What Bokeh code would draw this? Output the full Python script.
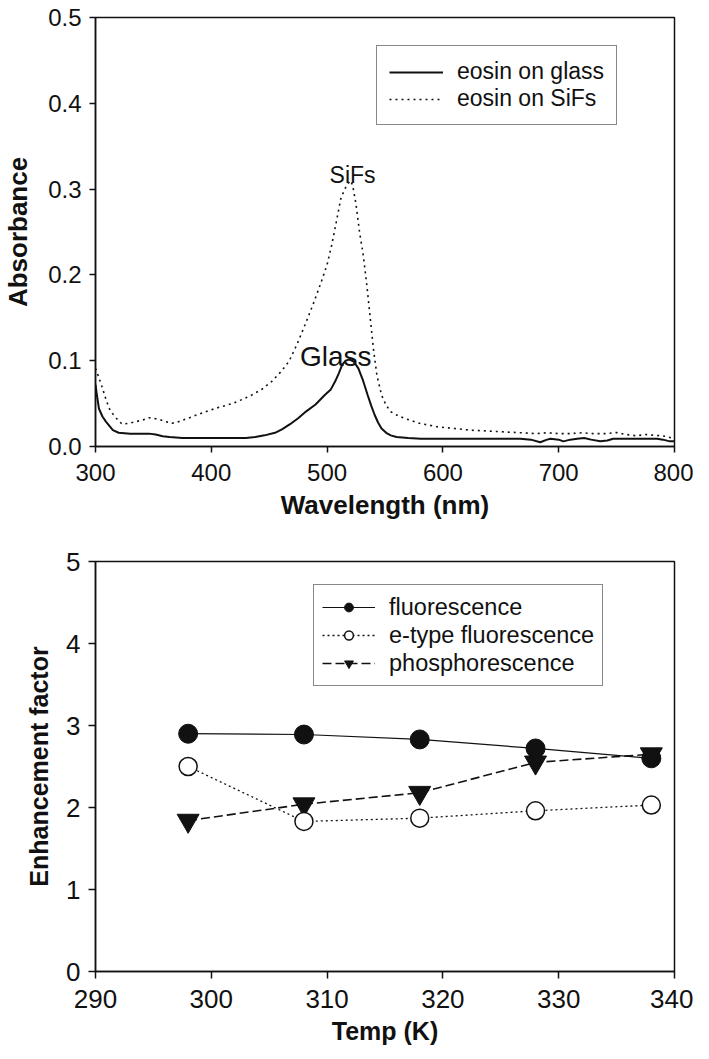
from bokeh.plotting import figure
from bokeh.layouts import column
from bokeh.models import FixedTicker, PrintfTickFormatter, Legend, LegendItem, Range1d
from bokeh.core.properties import value
from bokeh.embed import file_html
from bokeh.resources import INLINE

# ---------------- data: top panel ----------------
glass_nm = [300, 301, 303, 306, 309, 312, 315, 320, 330, 340, 346, 352, 358, 364, 375, 390,
            410, 430, 438, 446, 455, 461, 468, 475, 482, 490, 498, 503, 507, 510, 513, 516,
            518, 520, 523, 527, 531, 535, 538, 541, 544, 547, 551, 555, 560, 570, 581, 600,
            624, 650, 667, 676, 684, 690, 693, 700, 704, 710, 716, 722, 728, 736, 742, 747,
            760, 775, 785, 790, 796, 800]
glass_abs = [0.072, 0.062, 0.044, 0.035, 0.029, 0.024, 0.019, 0.016, 0.015, 0.015, 0.015, 0.014,
             0.012, 0.011, 0.010, 0.010, 0.010, 0.010, 0.011, 0.013, 0.016, 0.020, 0.026, 0.033,
             0.041, 0.049, 0.060, 0.066, 0.076, 0.085, 0.095, 0.100, 0.101, 0.101, 0.099, 0.091,
             0.077, 0.060, 0.048, 0.037, 0.028, 0.021, 0.016, 0.013, 0.011, 0.010, 0.009, 0.009,
             0.009, 0.009, 0.009, 0.008, 0.005, 0.008, 0.009, 0.008, 0.006, 0.008, 0.009, 0.010,
             0.008, 0.006, 0.007, 0.009, 0.009, 0.009, 0.009, 0.008, 0.006, 0.006]

sifs_nm = [300, 303, 306, 309, 312, 315, 318, 323, 329, 335, 341, 346, 350, 355, 361, 366, 372,
           378, 386, 395, 405, 418, 427, 435, 444, 452, 460, 467, 474, 481, 488, 495, 500, 504,
           508, 512, 516, 520, 522, 525, 528, 531, 534, 537, 540, 543, 547, 551, 555, 561, 567,
           580, 595, 610, 624, 640, 653, 668, 681, 690, 700, 710, 720, 730, 740, 750, 758, 767,
           775, 784, 792, 800]
sifs_abs = [0.091, 0.080, 0.068, 0.055, 0.044, 0.038, 0.033, 0.026, 0.027, 0.029, 0.031, 0.0335,
            0.033, 0.0315, 0.029, 0.027, 0.029, 0.032, 0.036, 0.0405, 0.045, 0.050, 0.055, 0.060,
            0.067, 0.0755, 0.087, 0.099, 0.119, 0.142, 0.166, 0.192, 0.212, 0.235, 0.262, 0.290,
            0.302, 0.310, 0.305, 0.282, 0.250, 0.225, 0.192, 0.153, 0.114, 0.083, 0.060, 0.048,
            0.0405, 0.036, 0.0327, 0.027, 0.023, 0.021, 0.019, 0.018, 0.017, 0.016, 0.015, 0.016,
            0.015, 0.015, 0.016, 0.015, 0.015, 0.0163, 0.014, 0.0125, 0.014, 0.013, 0.012, 0.009]

top_xticks = [300, 400, 500, 600, 700, 800]
top_yticks = [0.0, 0.1, 0.2, 0.3, 0.4, 0.5]

# ---------------- data: bottom panel ----------------
temp_k = [298, 308, 318, 328, 338]
fluorescence = [2.90, 2.89, 2.83, 2.72, 2.60]
etype_fluorescence = [2.50, 1.83, 1.87, 1.96, 2.03]
phosphorescence = [1.84, 2.04, 2.18, 2.55, 2.65]

bot_xticks = [290, 300, 310, 320, 330, 340]
bot_yticks = [0, 1, 2, 3, 4, 5]

FONT = "Liberation Sans"


def style(p, tick_size, label_size, tick_out, y_std, x_std, xtick_std):
    p.outline_line_color = "#111111"
    p.outline_line_width = 1.5
    p.xgrid.visible = False
    p.ygrid.visible = False
    for ax in (p.xaxis[0], p.yaxis[0]):
        ax.axis_line_color = "#111111"
        ax.axis_line_width = 1.5
        ax.major_tick_line_color = "#111111"
        ax.major_tick_line_width = 1.5
        ax.major_tick_out = tick_out
        ax.major_tick_in = 0
        ax.minor_tick_line_color = None
        ax.major_label_text_font = FONT
        ax.major_label_text_font_size = tick_size
        ax.major_label_text_color = "#111111"
        ax.major_label_standoff = 8
        ax.axis_label_text_font = FONT
        ax.axis_label_text_font_style = "bold"
        ax.axis_label_text_font_size = label_size
        ax.axis_label_text_color = "#111111"
    p.xaxis[0].major_label_standoff = xtick_std
    p.yaxis[0].axis_label_standoff = y_std
    p.xaxis[0].axis_label_standoff = x_std


# ---------------- top figure ----------------
p1 = figure(width=693, height=531, output_backend="svg", toolbar_location=None,
            x_range=Range1d(300, 800), y_range=Range1d(0, 0.5),
            min_border_left=90, min_border_right=19, min_border_top=17, min_border_bottom=85)
p1.background_fill_color = "white"
p1.border_fill_color = "white"

r_glass = p1.line(glass_nm, glass_abs, line_color="#111111", line_width=2)
r_sifs = p1.line(sifs_nm, sifs_abs, line_color="#111111", line_width=1.6, line_dash="2 4")

p1.text(x=[522], y=[0.317], text=["SiFs"], text_font=value(FONT), text_font_size="23px",
        text_align="center", text_baseline="alphabetic", text_color="#111111")
p1.text(x=[507.5], y=[0.1048], text=["Glass"], text_font=value(FONT), text_font_size="28px",
        text_align="center", text_baseline="alphabetic", text_color="#111111")

p1.xaxis.axis_label = "Wavelength (nm)"
p1.yaxis.axis_label = "Absorbance"
p1.xaxis.ticker = FixedTicker(ticks=top_xticks)
p1.yaxis.ticker = FixedTicker(ticks=top_yticks)
p1.yaxis.formatter = PrintfTickFormatter(format="%.1f")
p1.xaxis.formatter = PrintfTickFormatter(format="%d")
style(p1, "24px", "26px", 6, 12, 6, 11)

leg1 = Legend(items=[LegendItem(label="eosin on glass", renderers=[r_glass]),
                     LegendItem(label="eosin on SiFs", renderers=[r_sifs])],
              location=(281, 321))
leg1.label_text_font = FONT
leg1.label_text_font_size = "23px"
leg1.label_text_color = "#111111"
leg1.glyph_width = 54
leg1.glyph_height = 20
leg1.label_height = 26
leg1.label_standoff = 14
leg1.spacing = 0
leg1.padding = 12
leg1.margin = 0
leg1.border_line_color = "#111111"
leg1.border_line_width = 1.5
leg1.background_fill_color = "white"
leg1.background_fill_alpha = 1.0
p1.add_layout(leg1, "center")

# ---------------- bottom figure ----------------
p2 = figure(width=693, height=519, output_backend="svg", toolbar_location=None,
            x_range=Range1d(290, 340), y_range=Range1d(0, 5),
            min_border_left=87, min_border_right=17, min_border_top=30, min_border_bottom=79)
p2.background_fill_color = "white"
p2.border_fill_color = "white"

l_f = p2.line(temp_k, fluorescence, line_color="#111111", line_width=1.2)
l_e = p2.line(temp_k, etype_fluorescence, line_color="#111111", line_width=1.3, line_dash="2 3")
l_p = p2.line(temp_k, phosphorescence, line_color="#111111", line_width=1.6, line_dash="9 4")
s_f = p2.scatter(temp_k, fluorescence, marker="circle", size=19, fill_color="#111111",
                 line_color="#111111")
s_p = p2.scatter(temp_k, phosphorescence, marker="inverted_triangle", size=22,
                 fill_color="#111111", line_color="#111111")
s_e = p2.scatter(temp_k, etype_fluorescence, marker="circle", size=18, fill_color="white",
                 line_color="#111111", line_width=1.5)

p2.xaxis.axis_label = "Temp (K)"
p2.yaxis.axis_label = "Enhancement factor"
p2.xaxis.ticker = FixedTicker(ticks=bot_xticks)
p2.yaxis.ticker = FixedTicker(ticks=bot_yticks)
p2.xaxis.formatter = PrintfTickFormatter(format="%d")
p2.yaxis.formatter = PrintfTickFormatter(format="%d")
style(p2, "26px", "25px", 7, 10, 6, 11)

leg2 = Legend(items=[LegendItem(label="fluorescence", renderers=[l_f, s_f]),
                     LegendItem(label="e-type fluorescence", renderers=[l_e, s_e]),
                     LegendItem(label="phosphorescence", renderers=[l_p, s_p])],
              location=(218, 285))
leg2.label_text_font = FONT
leg2.label_text_font_size = "23.5px"
leg2.label_text_color = "#111111"
leg2.glyph_width = 53
leg2.glyph_height = 22
leg2.label_height = 28
leg2.label_standoff = 14
leg2.spacing = 0
leg2.padding = 8
leg2.margin = 0
leg2.border_line_color = "#111111"
leg2.border_line_width = 1.5
leg2.background_fill_color = "white"
leg2.background_fill_alpha = 1.0
p2.add_layout(leg2, "center")

layout = column(p1, p2, spacing=0)
open("out.html", "w").write(file_html(layout, INLINE))
